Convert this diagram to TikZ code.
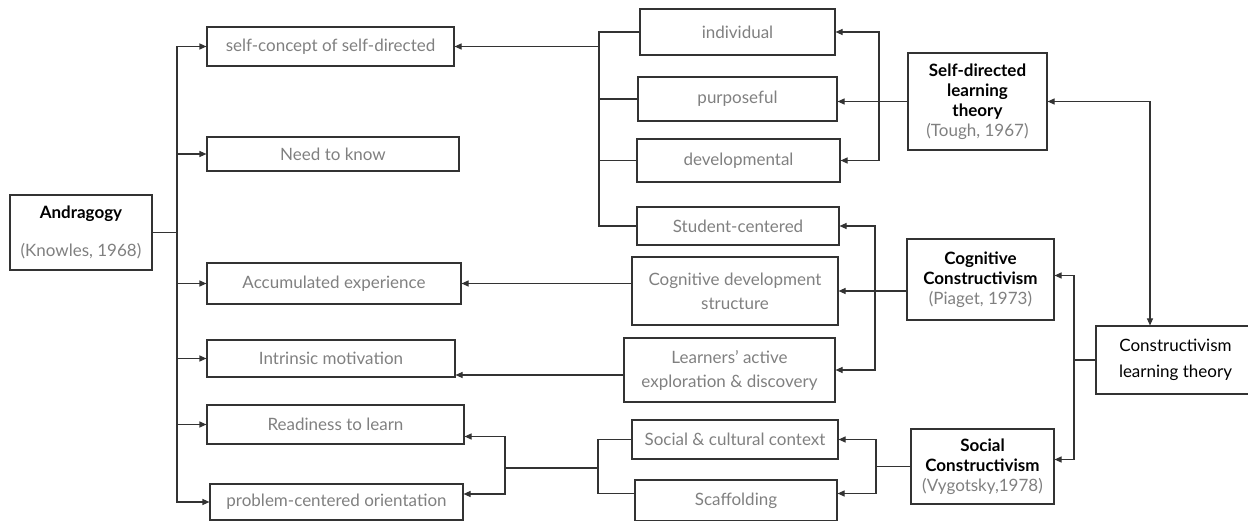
\documentclass[tikz,border=0pt]{standalone}
\usepackage{fontspec}
\setmainfont{Lato}
\usetikzlibrary{arrows.meta}
\definecolor{txtgray}{gray}{0.5}
\definecolor{linegray}{gray}{0.2}
\newcommand{\hd}[1]{\textcolor{black}{\textbf{#1}}}

\begin{document}
\begin{tikzpicture}[x=1pt, y=-1pt, line width=1.1pt, draw=linegray,
  box/.style={draw=linegray, rectangle, inner sep=2pt, align=center, text=txtgray,
    font=\fontsize{17}{20}\selectfont},
  arr/.style={-{Triangle[length=7pt,width=6pt]}},
  darr/.style={{Triangle[length=7pt,width=6pt]}-{Triangle[length=7pt,width=6pt]}}]
  \useasboundingbox (0,0) rectangle (1248,521);

  % andragogy and its six principles
  \node[box, minimum width=142, minimum height=75] (andr) at (81,232.5)
    {\hd{Andragogy}\\[18pt](Knowles, 1968)};
  \node[box, minimum width=247, minimum height=39] (self) at (330.5,46.5) {self-concept of self-directed};
  \node[box, minimum width=252, minimum height=34] (need) at (333,154) {Need to know};
  \node[box, minimum width=254, minimum height=41] (acc) at (334,283.5) {Accumulated experience};
  \node[box, minimum width=248, minimum height=37] (intr) at (331,358.5) {Intrinsic motivation};
  \node[box, minimum width=257, minimum height=39] (rdy) at (335.5,424.5) {Readiness to learn};
  \node[box, minimum width=253, minimum height=36] (pco) at (336.5,502) {problem-centered orientation};

  % middle column
  \node[box, minimum width=195, minimum height=46] (ind) at (737.5,32) {individual};
  \node[box, minimum width=199, minimum height=44] (pur) at (737.5,99) {purposeful};
  \node[box, minimum width=203, minimum height=43] (dev) at (738.5,160.5) {developmental};
  \node[box, minimum width=202, minimum height=38] (stu) at (738,226) {Student-centered};
  \node[box, minimum width=206, minimum height=68] (cds) at (735,291) {Cognitive development\\[4pt]structure};
  \node[box, minimum width=211, minimum height=64] (lae) at (729.5,370) {Learners’ active\\[4pt]exploration \& discovery};
  \node[box, minimum width=206, minimum height=39] (scc) at (735,439.5) {Social \& cultural context};
  \node[box, minimum width=202, minimum height=41] (sca) at (736,500.5) {Scaffolding};

  % theories
  \node[box, minimum width=139, minimum height=97] (sdl) at (977.5,101.5)
    {\hd{Self-directed}\\\hd{learning}\\\hd{theory}\\(Tough, 1967)};
  \node[box, minimum width=147, minimum height=81] (cog) at (980.5,279.5)
    {\hd{Cognitive}\\\hd{Constructivism}\\(Piaget, 1973)};
  \node[box, minimum width=143, minimum height=75] (soc) at (982.5,466.5)
    {\hd{Social}\\\hd{Constructivism}\\(Vygotsky,1978)};
  \node[box, minimum width=159, minimum height=68, text=black] (clt) at (1175.5,360)
    {Constructivism\\[6pt]learning theory};

  \coordinate (trunk) at (177,0);
  \coordinate (lbr) at (599,0);
  \coordinate (rb1) at (879,0);
  \coordinate (rb2) at (875,0);
  \coordinate (rb3) at (876,0);
  \coordinate (rb4) at (1074,0);
  \coordinate (rb5) at (1150,0);
  \coordinate (sbr) at (598,0);
  \coordinate (jn) at (505,468);

  % andragogy trunk
  \draw (andr.east) -- (andr.east -| trunk);
  \foreach \n in {self,need,acc,intr,rdy,pco}
    \draw[arr] (andr.east -| trunk) |- (\n.west);

  % self-directed branch
  \draw (ind.west) -- (ind.west -| lbr) -- (stu.west -| lbr) -- (stu.west);
  \draw (pur.west) -- (pur.west -| lbr);
  \draw (dev.west) -- (dev.west -| lbr);
  \draw[arr] (self.east -| lbr) -- (self.east);
  \draw[arr] (sdl.west) -- (sdl.west -| pur.east);
  \draw[darr] (ind.east) -- (ind.east -| rb1) -- (dev.east -| rb1) -- (dev.east);

  % cognitive branch
  \draw[arr] (cog.west |- cds.east) -- (cds.east);
  \draw[darr] (stu.east) -- (stu.east -| rb2) -- (lae.east -| rb2) -- (lae.east);
  \draw[arr] (cds.west |- acc.east) -- (acc.east);
  \draw[arr] ([yshift=-5pt]lae.west) -- ([yshift=-5pt]lae.west -| intr.east);

  % social branch
  \draw (soc.west) -- (soc.west -| rb3);
  \draw[darr] (scc.east) -- (scc.east -| rb3) -- ([yshift=7pt]sca.east -| rb3) -- ([yshift=7pt]sca.east);
  \draw (scc.west) -- (scc.west -| sbr) -- ([yshift=7pt]sca.west -| sbr) -- ([yshift=7pt]sca.west);
  \draw (jn -| sbr) -- (jn);
  \draw[darr] ([yshift=-12pt]rdy.east) -- ([yshift=-12pt]rdy.east -| jn)
    -- ([yshift=8pt]pco.east -| jn) -- ([yshift=8pt]pco.east);

  % constructivism
  \draw (clt.west) -- (clt.west -| rb4);
  \draw[darr] ([yshift=4pt]cog.east) -- ([yshift=4pt]cog.east -| rb4)
    -- ([yshift=7pt]soc.east -| rb4) -- ([yshift=7pt]soc.east);
  \draw[darr] (sdl.east) -| (clt.north -| rb5);
\end{tikzpicture}
\end{document}
